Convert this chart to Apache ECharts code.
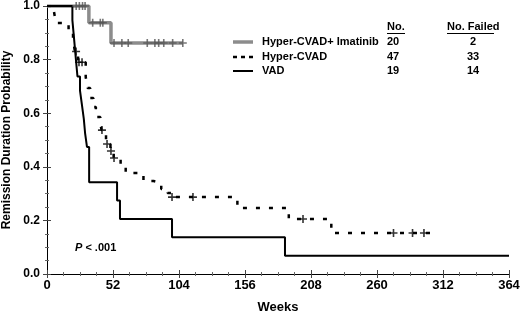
<!DOCTYPE html>
<html>
<head>
<meta charset="utf-8">
<script src="https://cdn.jsdelivr.net/npm/echarts@6/dist/echarts.min.js"></script>
<style>
  html, body { margin: 0; padding: 0; background: #fff; }
  #chart { width: 520px; height: 311px; }
</style>
</head>
<body>
<div id="chart"></div>
<script>
// legend table
const groupNames = ['Hyper-CVAD+ Imatinib', 'Hyper-CVAD', 'VAD'];
const groupNo = [20, 47, 19];
const groupFailed = [2, 33, 14];

// step curves: [week, probability after event]
const imatinibCurve = [[0, 1], [33, 0.9375], [50.4, 0.862], [107, 0.862]];
const imatinibCensor = [[23, 1], [25.5, 1], [28, 1], [30, 1], [36, 0.9375], [42, 0.9375], [44, 0.9375],
  [52.8, 0.862], [59, 0.862], [64, 0.862], [79, 0.862], [85, 0.862], [88, 0.862], [92, 0.862], [99, 0.862], [107, 0.862]];

const hcvadCurve = [[0, 1], [5.5, 0.979], [7, 0.937], [17, 0.9], [20.5, 0.873], [22, 0.83], [24.5, 0.79],
  [30.5, 0.735], [32, 0.694], [34, 0.657], [36.5, 0.623], [38.5, 0.586], [42, 0.56], [43, 0.537],
  [46.5, 0.485], [50, 0.459], [52.5, 0.433], [58, 0.403], [62, 0.377], [76, 0.347], [84, 0.34],
  [90, 0.317], [95, 0.302], [98, 0.287], [150, 0.246], [190.5, 0.205], [224, 0.153], [307, 0.153]];
const hcvadCensor = [[22.9, 0.83], [25.2, 0.79], [27.6, 0.79], [43.3, 0.537], [47.3, 0.485], [50.4, 0.459],
  [52.8, 0.433], [98.5, 0.287], [115, 0.287], [201.7, 0.205], [273, 0.153], [288, 0.153], [297, 0.153]];

const vadCurve = [[0, 1], [20, 0.947], [21, 0.895], [22, 0.842], [23, 0.789], [24, 0.737], [26, 0.684],
  [27.5, 0.632], [29, 0.579], [30, 0.526], [31.5, 0.474], [33.2, 0.342], [55.2, 0.274], [57.5, 0.205],
  [98.5, 0.137], [187.5, 0.068], [364, 0.068]];

const FONT = '"Liberation Sans", Arial, sans-serif';
const plusPath = 'path://M0,4H10V6H0ZM4,0H6V10H4Z';
const lineStyles = [
  { stroke: '#8c8c8c', lineWidth: 3.5 },
  { stroke: '#000', lineWidth: 2.5, lineDash: [4, 4] },
  { stroke: '#000', lineWidth: 2 }
];

const chart = echarts.init(document.getElementById('chart'));

function frameAxis(pos, isX) {
  return {
    type: 'value',
    position: pos,
    min: 0,
    max: isX ? 364 : 1,
    interval: isX ? 52 : 0.2,
    axisLine: { show: true, lineStyle: { color: '#000', width: 1 } },
    axisTick: { show: true, inside: true, length: 4, lineStyle: { color: '#444' } },
    minorTick: { show: true, splitNumber: 4, length: 2, lineStyle: { color: '#666' } },
    splitLine: { show: false },
    axisLabel: { show: false }
  };
}

const xMain = frameAxis('bottom', true);
xMain.axisLabel = { show: true, color: '#000', fontFamily: FONT, fontWeight: 'bold', fontSize: 13, margin: 5 };
xMain.name = 'Weeks';
xMain.nameLocation = 'middle';
xMain.nameGap = 27;
xMain.nameTextStyle = { color: '#000', fontFamily: FONT, fontWeight: 'bold', fontSize: 13 };

const yMain = frameAxis('left', false);
yMain.axisLabel = { show: true, color: '#000', fontFamily: FONT, fontWeight: 'bold', fontSize: 12, margin: 7,
  formatter: v => v.toFixed(1) };
yMain.name = 'Remission Duration Probability';
yMain.nameLocation = 'middle';
yMain.nameGap = 30;
yMain.nameTextStyle = { color: '#000', fontFamily: FONT, fontWeight: 'bold', fontSize: 12 };

const tableText = [];
const rowY = [42, 57, 71];
const txt = { fill: '#000', font: 'bold 11px ' + FONT, verticalAlign: 'middle' };
tableText.push({ type: 'text', x: 387, y: 27, style: Object.assign({ text: 'No.' }, txt) });
tableText.push({ type: 'text', x: 447, y: 27, style: Object.assign({ text: 'No. Failed' }, txt) });
tableText.push({ type: 'rect', shape: { x: 387, y: 33, width: 18, height: 1 }, style: { fill: '#000' } });
tableText.push({ type: 'rect', shape: { x: 447, y: 33, width: 47, height: 1 }, style: { fill: '#000' } });
groupNames.forEach((n, i) => {
  tableText.push({ type: 'line', shape: { x1: 233, y1: rowY[i], x2: 253, y2: rowY[i] }, style: lineStyles[i] });
  tableText.push({ type: 'text', x: 262, y: rowY[i], style: Object.assign({ text: n }, txt) });
  tableText.push({ type: 'text', x: 387, y: rowY[i], style: Object.assign({ text: String(groupNo[i]) }, txt) });
  tableText.push({ type: 'text', x: 473, y: rowY[i],
    style: Object.assign({ text: String(groupFailed[i]), align: 'center' }, txt) });
});
tableText.push({ type: 'text', x: 75, y: 248, style: {
  text: '{i|P} < .001', fill: '#000', font: 'bold 11px ' + FONT, verticalAlign: 'middle',
  rich: { i: { fontStyle: 'italic', fontWeight: 'bold', fontSize: 11, fontFamily: FONT } } } });

const option = {
  backgroundColor: '#fff',
  animation: false,
  grid: { left: 47, right: 11, top: 6, bottom: 37, outerBoundsMode: 'none' },
  xAxis: [xMain, frameAxis('top', true)],
  yAxis: [yMain, frameAxis('right', false)],
  graphic: tableText,
  series: [
    {
      name: 'Hyper-CVAD+ Imatinib',
      type: 'line',
      step: 'end',
      symbol: 'none',
      data: imatinibCurve,
      lineStyle: { color: '#8c8c8c', width: 3.5 },
      z: 3
    },
    {
      name: 'Hyper-CVAD',
      type: 'line',
      step: 'end',
      symbol: 'none',
      data: hcvadCurve,
      lineStyle: { color: '#000', width: 2.5, type: [4, 9] },
      z: 2
    },
    {
      name: 'VAD',
      type: 'line',
      step: 'end',
      symbol: 'none',
      data: vadCurve,
      lineStyle: { color: '#000', width: 2 },
      z: 4
    },
    {
      name: 'imatinib censored',
      type: 'scatter',
      symbol: plusPath,
      symbolSize: 8,
      data: imatinibCensor,
      itemStyle: { color: '#555' },
      z: 5
    },
    {
      name: 'hcvad censored',
      type: 'scatter',
      symbol: plusPath,
      symbolSize: 8,
      data: hcvadCensor,
      itemStyle: { color: '#000' },
      z: 5
    }
  ]
};
chart.setOption(option);
</script>
</body>
</html>
